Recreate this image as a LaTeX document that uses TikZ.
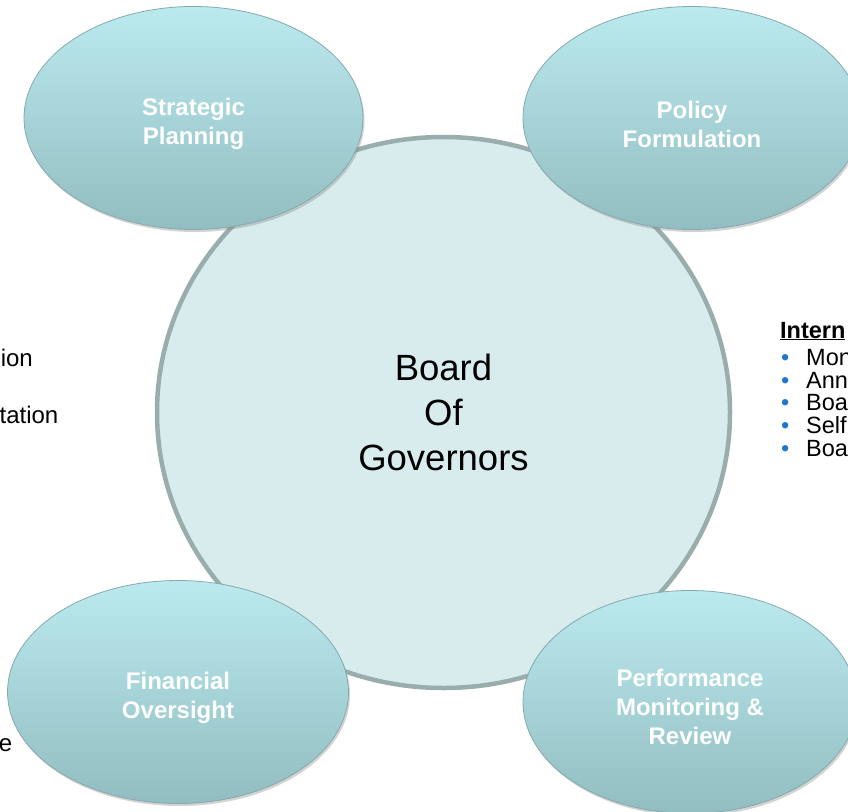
\documentclass[tikz,border=0pt]{standalone}
\usepackage{fontspec}
\setmainfont{Liberation Sans}
\usepackage{xcolor}
\usepackage{tikz}
\usetikzlibrary{shapes.geometric, shadows, positioning}
\definecolor{boardfill}{HTML}{D8ECEE}
\definecolor{boardline}{HTML}{9AADAD}
\definecolor{petaltop}{HTML}{BBEAEE}
\definecolor{petalbot}{HTML}{92BDC1}
\definecolor{petalline}{HTML}{84AAAE}
\definecolor{bulletblue}{HTML}{1F77C9}

\begin{document}
\begin{tikzpicture}[x=1pt, y=-1pt,
        petal/.style={ellipse, draw=petalline, line width=0.8pt,
              top color=petaltop, bottom color=petalbot,
              drop shadow={opacity=0.35, shadow xshift=1.5pt, shadow yshift=-2.5pt},
              minimum width=338pt, minimum height=223pt, inner sep=0pt},
        petallabel/.style={text=white, align=center, inner sep=0pt,
              font=\fontsize{24}{29}\selectfont\bfseries},
        sidetext/.style={anchor=base east, inner sep=0pt, font=\fontsize{24}{29}\selectfont},
        listtext/.style={anchor=base west, inner sep=0pt, font=\fontsize{23.5}{23}\selectfont}]
        \useasboundingbox (0,0) rectangle (848,811);
        \clip (0,0) rectangle (848,811);

        % centre circle
        \node[ellipse, draw=boardline, line width=4.5pt, fill=boardfill,
              minimum width=573pt, minimum height=551pt, align=center,
              font=\fontsize{36.5}{45}\selectfont] (board) at (443.5,412.5)
              {Board\\Of\\Governors};

        % the four functions
        \node[petal, minimum width=339pt] (strategic) at (193.5,118) {};
        \node[petal] (policy) at (692,118) {};
        \node[petal, minimum width=341pt] (financial) at (178,692) {};
        \node[petal, minimum width=334pt] (review) at (690,702) {};
        \node[petallabel] (strategiclabel) at ([yshift=-6pt]strategic.center) {Strategic\\Planning};
        \node[petallabel] (policylabel) at ([yshift=-6pt]policy.center) {Policy\\Formulation};
        \node[petallabel] (financiallabel) at ([yshift=-6pt]financial.center) {Financial\\Oversight};
        \node[petallabel] (reviewlabel) at ([yshift=-4.5pt]review.center) {Performance\\Monitoring \&\\Review};

        % text cut off at the left edge
        \node[sidetext] (leftone) at (33,366) {ion};
        \node[sidetext] (lefttwo) at (58.5,423) {tation};
        \node[sidetext] (leftthree) at (12.5,751) {e};

        % list cut off at the right edge
        \node[listtext, font=\fontsize{23.5}{23}\selectfont\bfseries] (intern) at (780,338) {\underline{Intern}};
        \node[listtext] (itemone) at (781,365) {\makebox[25pt][l]{\textcolor{bulletblue}{\textbullet}}Mon};
        \node[listtext] (itemtwo) at (781,388) {\makebox[25pt][l]{\textcolor{bulletblue}{\textbullet}}Ann};
        \node[listtext] (itemthree) at (781,410.5) {\makebox[25pt][l]{\textcolor{bulletblue}{\textbullet}}Boa};
        \node[listtext] (itemfour) at (781,433) {\makebox[25pt][l]{\textcolor{bulletblue}{\textbullet}}Self};
        \node[listtext] (itemfive) at (781,456) {\makebox[25pt][l]{\textcolor{bulletblue}{\textbullet}}Boa};
    \end{tikzpicture}
\end{document}
